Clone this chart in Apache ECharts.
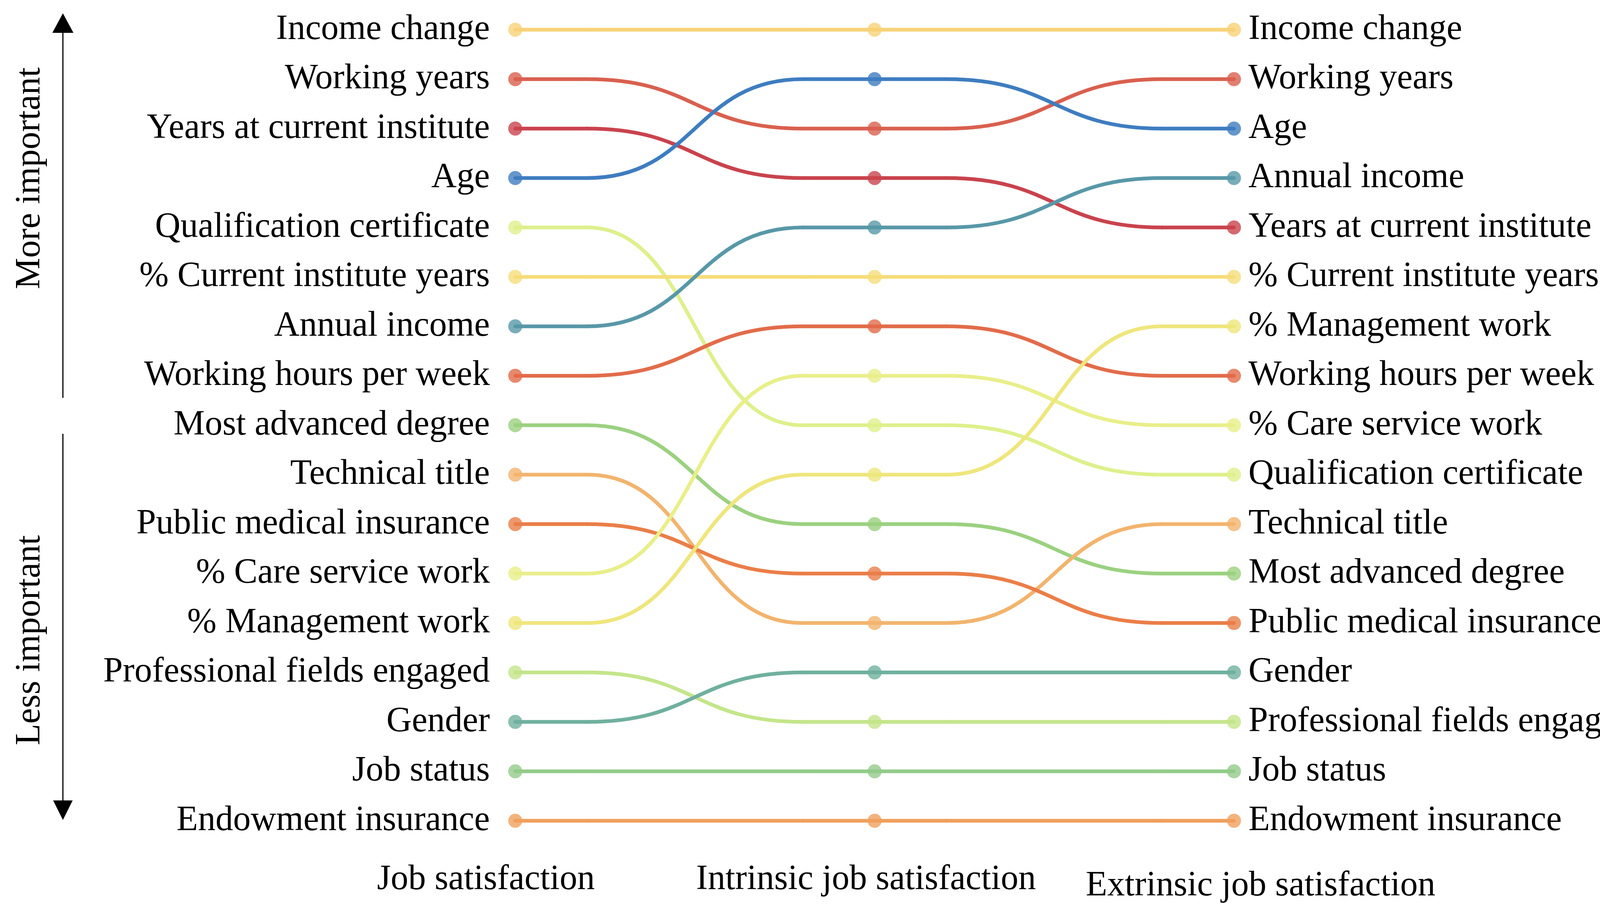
<!DOCTYPE html>
<html>
<head>
<meta charset="utf-8">
<script src="https://cdn.jsdelivr.net/npm/echarts@6/dist/echarts.min.js"></script>
<style>
html,body{margin:0;padding:0;background:#fff;}
#chart{width:4211px;height:2313px;}
</style>
</head>
<body>
<div id="chart"></div>
<script>
// Variables listed in "Job satisfaction" importance order
const variables = [
  'Income change', 'Working years', 'Years at current institute', 'Age',
  'Qualification certificate', '% Current institute years', 'Annual income',
  'Working hours per week', 'Most advanced degree', 'Technical title',
  'Public medical insurance', '% Care service work', '% Management work',
  'Professional fields engaged', 'Gender', 'Job status', 'Endowment insurance'
];
// Rank (1 = most important) in each outcome
const jobRank       = [1, 2, 3, 4, 5, 6, 7, 8, 9, 10, 11, 12, 13, 14, 15, 16, 17];
const intrinsicRank = [1, 3, 4, 2, 9, 6, 5, 7, 11, 13, 12, 8, 10, 15, 14, 16, 17];
const extrinsicRank = [1, 2, 5, 3, 10, 6, 4, 8, 12, 11, 13, 9, 7, 15, 14, 16, 17];
const outcomes = ['Job satisfaction', 'Intrinsic job satisfaction', 'Extrinsic job satisfaction'];
const colors = [
  '#F7D278', '#D9604F', '#C9434D', '#3E7DC0', '#DEF08C', '#F5DD7A', '#5898A8',
  '#E26C4A', '#9BD180', '#F2B46E', '#EA7E48', '#E9EF8A', '#EFE67C', '#C4E58A',
  '#6FB09E', '#93CB8A', '#F0A05C'
];

const rankCols = [jobRank, intrinsicRank, extrinsicRank];
function orderBy(ranks) {
  const out = new Array(variables.length);
  ranks.forEach((r, i) => { out[r - 1] = variables[i]; });
  return out;
}
const leftLabels = orderBy(jobRank);
const rightLabels = orderBy(extrinsicRank);

const FONT = 'Liberation Serif';
const LW = 9.5;
const FLAT = 0.2;

const lineData = variables.map((n, i) => ({
  name: n,
  value: [0, jobRank[i] - 1, intrinsicRank[i] - 1, extrinsicRank[i] - 1]
}));
const dotData = [];
variables.forEach((n, i) => {
  rankCols.forEach((col, c) => {
    dotData.push({ name: n, value: [c, col[i] - 1], itemStyle: { color: colors[i] } });
  });
});

const chart = echarts.init(document.getElementById('chart'), null, { renderer: 'canvas' });
const option = {
  backgroundColor: '#ffffff',
  animation: false,
  grid: { left: 1319, right: 1052, top: 76, bottom: 213 },
  xAxis: {
    type: 'category',
    data: outcomes,
    boundaryGap: false,
    axisLine: { show: false },
    axisTick: { show: false },
    splitLine: { show: false },
    axisLabel: {
      interval: 0,
      margin: 106,
      color: '#000',
      fontFamily: FONT,
      fontSize: 90,
      formatter: function (v, idx) { return '{s' + idx + '|' + v + '}'; },
      rich: {
        s0: { fontFamily: FONT, fontSize: 90, color: '#000', padding: [0, 150, 0, 0] },
        s1: { fontFamily: FONT, fontSize: 90, color: '#000', padding: [0, 44, 0, 0] },
        s2: { fontFamily: FONT, fontSize: 90, color: '#000', padding: [16, 0, 0, 136] }
      }
    }
  },
  yAxis: [
    {
      type: 'category',
      data: leftLabels,
      inverse: true,
      boundaryGap: false,
      position: 'left',
      axisLine: { show: false },
      axisTick: { show: false },
      splitLine: { show: false },
      axisLabel: {
        interval: 0, margin: 65, color: '#000', fontFamily: FONT, fontSize: 90,
        padding: [0, 0, 20, 0]
      }
    },
    {
      type: 'category',
      data: rightLabels,
      inverse: true,
      boundaryGap: false,
      position: 'right',
      axisLine: { show: false },
      axisTick: { show: false },
      splitLine: { show: false },
      axisLabel: {
        interval: 0, margin: 37, color: '#000', fontFamily: FONT, fontSize: 90,
        padding: [0, 0, 20, 0]
      }
    }
  ],
  series: [
    {
      type: 'custom',
      yAxisIndex: 0,
      data: lineData,
      z: 2,
      renderItem: function (params, api) {
        const ranks = [api.value(1), api.value(2), api.value(3)];
        const pts = ranks.map((r, i) => api.coord([i, r]));
        const color = colors[params.dataIndex];
        const st = { stroke: color, lineWidth: LW, fill: null, lineCap: 'round' };
        const children = [];
        for (let i = 0; i < 2; i++) {
          const a = pts[i], b = pts[i + 1];
          const dx = b[0] - a[0];
          const s = a[0] + FLAT * dx, e = b[0] - FLAT * dx, m = (s + e) / 2;
          children.push({ type: 'line', shape: { x1: a[0], y1: a[1], x2: s, y2: a[1] }, style: st });
          children.push({ type: 'bezierCurve', shape: { x1: s, y1: a[1], cpx1: m, cpy1: a[1], cpx2: m, cpy2: b[1], x2: e, y2: b[1] }, style: st });
          children.push({ type: 'line', shape: { x1: e, y1: b[1], x2: b[0], y2: b[1] }, style: st });
        }
        return { type: 'group', children: children };
      }
    },
    {
      type: 'scatter',
      yAxisIndex: 0,
      data: dotData,
      symbol: 'circle',
      symbolSize: 36,
      z: 3
    }
  ],
  graphic: [
    { type: 'line', shape: { x1: 161, y1: 1018, x2: 161, y2: 80 }, style: { stroke: '#000', lineWidth: 3 } },
    { type: 'polygon', shape: { points: [[134, 84], [188, 84], [161, 34]] }, style: { fill: '#000' } },
    { type: 'line', shape: { x1: 161, y1: 1110, x2: 161, y2: 2052 }, style: { stroke: '#000', lineWidth: 3 } },
    { type: 'polygon', shape: { points: [[136, 2048], [186, 2048], [161, 2098]] }, style: { fill: '#000' } },
    { type: 'text', x: 77, y: 456, rotation: Math.PI / 2,
      style: { text: 'More important', fontFamily: FONT, fontSize: 90, fill: '#000', align: 'center', verticalAlign: 'middle' } },
    { type: 'text', x: 77, y: 1638, rotation: Math.PI / 2,
      style: { text: 'Less important', fontFamily: FONT, fontSize: 90, fill: '#000', align: 'center', verticalAlign: 'middle' } }
  ]
};
chart.setOption(option);
</script>
</body>
</html>
